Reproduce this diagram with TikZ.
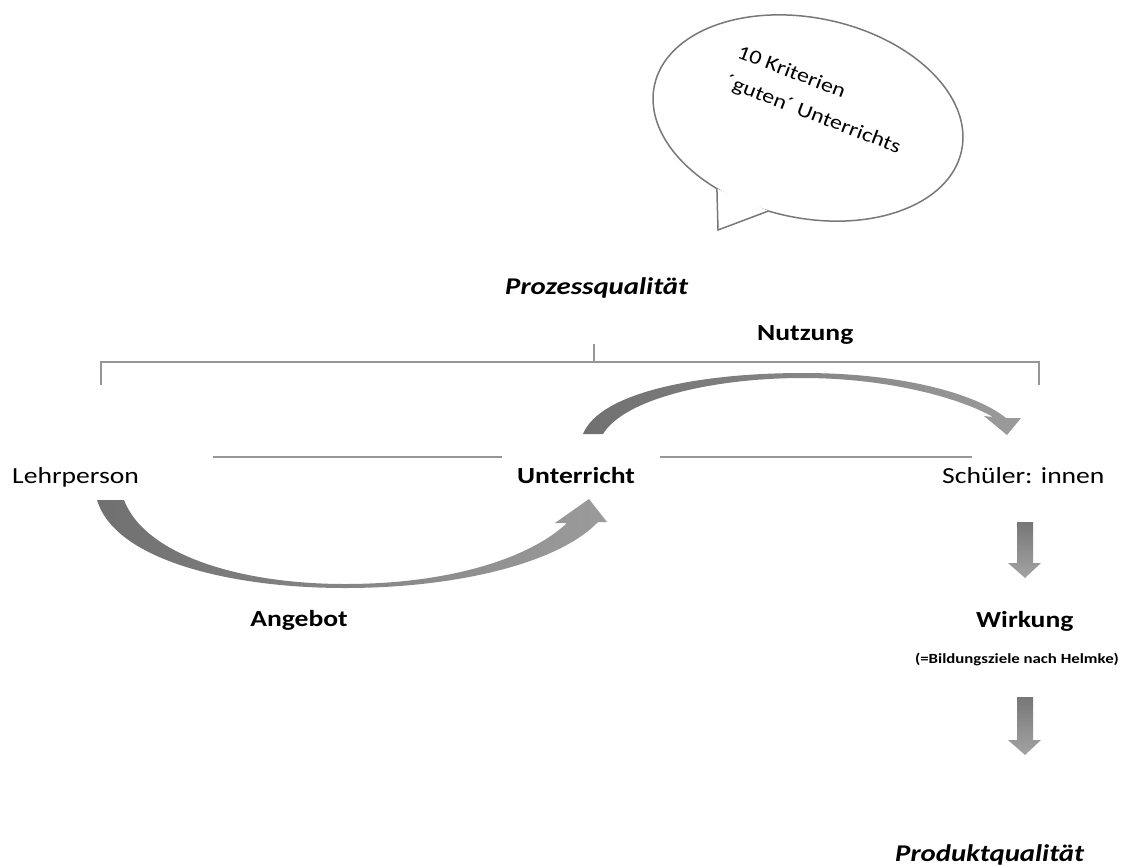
\documentclass[tikz,border=0pt]{standalone}
\usepackage{fontspec}
\setmainfont{Carlito}[FakeStretch=1.2]
\definecolor{linegray}{RGB}{150,150,150}
\definecolor{bubblegray}{RGB}{120,120,120}
\definecolor{arrdark}{RGB}{112,112,112}
\definecolor{arrlight}{RGB}{155,155,155}
\definecolor{downgray}{RGB}{140,140,140}
\tikzset{
  lbl/.style={inner sep=0pt, font=\fontsize{23}{27}\selectfont},
  lblb/.style={inner sep=0pt, font=\fontsize{23}{27}\selectfont\bfseries},
  lblbi/.style={inner sep=0pt, font=\fontsize{24}{28}\selectfont\bfseries\itshape},
  lblsmall/.style={inner sep=0pt, font=\fontsize{14}{17}\selectfont\bfseries},
  bubtxt/.style={inner sep=0pt, font=\fontsize{20}{32}\selectfont, rotate=-21, anchor=north west, align=left},
  thinline/.style={draw=linegray, line width=1.3pt},
  bubble/.style={draw=bubblegray, line width=1.5pt},
}
\begin{document}
\begin{tikzpicture}[x=1pt,y=-1pt]
\useasboundingbox (0,0) rectangle (1132,865);
\fill[white] (0,0) rectangle (1132,865);

% speech bubble
\begin{scope}[shift={(808,118)}, rotate=-12]
  \coordinate (j1) at (118.3:157 and 100);
  \coordinate (j2) at (97.1:157 and 100);
  \draw[bubble, fill=white] (0,0) ellipse [x radius=157, y radius=100];
\end{scope}
\coordinate (tip) at (718,230);
\fill[white] (j1) -- (tip) -- (j2) -- cycle;
\draw[bubble, line join=miter] (j1) -- (tip) -- (j2);
\node[bubtxt] (btxt) at (741,44) {10 Kriterien\\´guten´ Unterrichts};

% titles
\node[lblbi, anchor=base west] (proz) at (505,294) {Prozessqualität};
\node[lblb, anchor=base west] (nutz) at (757,340) {Nutzung};

% bracket
\coordinate (brL) at (101,385);
\coordinate (brLt) at (101,362);
\coordinate (brR) at (1039,385);
\coordinate (brRt) at (1039,362);
\coordinate (brM) at (594,344);
\coordinate (brMb) at (594,362);
\draw[thinline] (brL) -- (brLt) -- (brRt) -- (brR);
\draw[thinline] (brM) -- (brMb);

% main labels
\node[lbl, anchor=base west] (lehr) at (12,483) {Lehrperson};
\node[lblb, anchor=base west] (unt) at (517,483) {Unterricht};
\node[lbl, anchor=base west] (sch) at (942,483) {Schüler: innen};

% horizontal lines
\coordinate (l1a) at (213,457);
\coordinate (l1b) at (502,457);
\coordinate (l2a) at (660,457);
\coordinate (l2b) at (972,457);
\draw[thinline] (l1a) -- (l1b);
\draw[thinline] (l2a) -- (l2b);

% Angebot curved arrow
\shade[left color=arrdark, right color=arrlight]
  (97,500) .. controls (115,560) and (230,588) .. (345,588)
  .. controls (460,588) and (560,562) .. (598,522)
  -- (607,522) -- (589,499) -- (555,523) -- (567,523)
  .. controls (530,558) and (450,584) .. (345,584)
  .. controls (240,584) and (145,555) .. (124,500) -- cycle;

% Nutzung curved arrow
\shade[left color=arrdark, right color=arrlight]
  (583,434) .. controls (600,392) and (700,373) .. (803,373)
  .. controls (900,373) and (975,393) .. (1006,418)
  -- (1021,418) -- (1007,435) -- (984,416) -- (993,417)
  .. controls (962,399) and (890,378) .. (803,378)
  .. controls (715,378) and (625,398) .. (603,434) -- cycle;

% lower labels
\node[lblb, anchor=base] (ang) at (299,626) {Angebot};
\node[lblb, anchor=base west] (wirk) at (976,627) {Wirkung};
\node[lblsmall, anchor=base] (bild) at (1017,663) {(=Bildungsziele nach Helmke)};
\node[lblbi, anchor=base west] (prod) at (895,861) {Produktqualität};

% down arrows
\shade[top color=downgray!85!black, bottom color=downgray!80!white]
  (1017,522) -- (1033,522) -- (1033,563) -- (1041,563) -- (1025,578) -- (1008,563) -- (1017,563) -- cycle;
\shade[top color=downgray!85!black, bottom color=downgray!80!white]
  (1017,697) -- (1033,697) -- (1033,740) -- (1041,740) -- (1025,755) -- (1008,740) -- (1017,740) -- cycle;
\end{tikzpicture}
\end{document}
